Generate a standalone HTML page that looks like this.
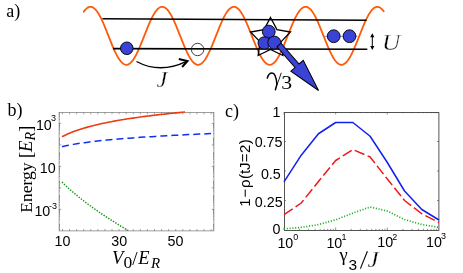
<!DOCTYPE html>
<html><head><meta charset="utf-8"><title>figure</title>
<style>
html,body{margin:0;padding:0;background:#fff;}
body{width:463px;height:273px;overflow:hidden;}
svg{display:block;will-change:transform;}
text{font-family:"Liberation Sans",sans-serif;fill:#000;}
.se{font-family:"Liberation Serif",serif;}
.it{font-style:italic;}
.tk{font-size:14.3px;}
.sp{font-size:9px;}.sc{font-size:9px;}
</style></head><body>
<svg width="463" height="273" viewBox="0 0 463 273">
<rect width="463" height="273" fill="#fff"/>
<!-- panel a -->
<text class="se" x="6.3" y="17.3" font-size="18">a)</text>
<path d="M83.75,11.73 L84.75,10.4 L85.75,9.28 L86.75,8.35 L87.75,7.64 L88.75,7.14 L89.75,6.86 L90.75,6.81 L91.75,6.97 L92.75,7.36 L93.75,7.97 L94.75,8.79 L95.75,9.82 L96.75,11.04 L97.75,12.46 L98.75,14.05 L99.75,15.82 L100.75,17.73 L101.75,19.79 L102.75,21.97 L103.75,24.25 L104.75,26.62 L105.75,29.06 L106.75,31.56 L107.75,34.09 L108.75,36.63 L109.75,39.16 L110.75,41.67 L111.75,44.13 L112.75,46.53 L113.75,48.85 L114.75,51.06 L115.75,53.16 L116.75,55.13 L117.75,56.95 L118.75,58.6 L119.75,60.08 L120.75,61.38 L121.75,62.48 L122.75,63.37 L123.75,64.05 L124.75,64.52 L125.75,64.76 L126.75,64.78 L127.75,64.58 L128.75,64.16 L129.75,63.52 L130.75,62.67 L131.75,61.61 L132.75,60.36 L133.75,58.91 L134.75,57.29 L135.75,55.51 L136.75,53.57 L137.75,51.49 L138.75,49.3 L139.75,47 L140.75,44.62 L141.75,42.16 L142.75,39.66 L143.75,37.13 L144.75,34.59 L145.75,32.06 L146.75,29.56 L147.75,27.1 L148.75,24.72 L149.75,22.41 L150.75,20.21 L151.75,18.13 L152.75,16.19 L153.75,14.39 L154.75,12.76 L155.75,11.31 L156.75,10.04 L157.75,8.98 L158.75,8.12 L159.75,7.47 L160.75,7.03 L161.75,6.82 L162.75,6.83 L163.75,7.07 L164.75,7.52 L165.75,8.19 L166.75,9.07 L167.75,10.16 L168.75,11.45 L169.75,12.92 L170.75,14.57 L171.75,16.38 L172.75,18.34 L173.75,20.43 L174.75,22.64 L175.75,24.95 L176.75,27.35 L177.75,29.81 L178.75,32.31 L179.75,34.85 L180.75,37.39 L181.75,39.92 L182.75,42.41 L183.75,44.86 L184.75,47.23 L185.75,49.52 L186.75,51.71 L187.75,53.77 L188.75,55.69 L189.75,57.46 L190.75,59.07 L191.75,60.49 L192.75,61.73 L193.75,62.77 L194.75,63.6 L195.75,64.21 L196.75,64.61 L197.75,64.79 L198.75,64.75 L199.75,64.48 L200.75,63.99 L201.75,63.29 L202.75,62.37 L203.75,61.26 L204.75,59.94 L205.75,58.44 L206.75,56.77 L207.75,54.94 L208.75,52.96 L209.75,50.85 L210.75,48.62 L211.75,46.29 L212.75,43.89 L213.75,41.42 L214.75,38.91 L215.75,36.37 L216.75,33.83 L217.75,31.31 L218.75,28.82 L219.75,26.38 L220.75,24.02 L221.75,21.74 L222.75,19.58 L223.75,17.53 L224.75,15.63 L225.75,13.89 L226.75,12.31 L227.75,10.91 L228.75,9.7 L229.75,8.7 L230.75,7.9 L231.75,7.31 L232.75,6.95 L233.75,6.8 L234.75,6.88 L235.75,7.18 L236.75,7.7 L237.75,8.43 L238.75,9.38 L239.75,10.53 L240.75,11.87 L241.75,13.4 L242.75,15.09 L243.75,16.95 L244.75,18.95 L245.75,21.08 L246.75,23.32 L247.75,25.66 L248.75,28.08 L249.75,30.56 L250.75,33.07 L251.75,35.61 L252.75,38.15 L253.75,40.67 L254.75,43.15 L255.75,45.58 L256.75,47.93 L257.75,50.19 L258.75,52.34 L259.75,54.36 L260.75,56.24 L261.75,57.96 L262.75,59.51 L263.75,60.88 L264.75,62.06 L265.75,63.04 L266.75,63.8 L267.75,64.36 L268.75,64.69 L269.75,64.8 L270.75,64.69 L271.75,64.36 L272.75,63.8 L273.75,63.04 L274.75,62.06 L275.75,60.88 L276.75,59.51 L277.75,57.96 L278.75,56.24 L279.75,54.36 L280.75,52.34 L281.75,50.19 L282.75,47.93 L283.75,45.58 L284.75,43.15 L285.75,40.67 L286.75,38.15 L287.75,35.61 L288.75,33.07 L289.75,30.56 L290.75,28.08 L291.75,25.66 L292.75,23.32 L293.75,21.08 L294.75,18.95 L295.75,16.95 L296.75,15.09 L297.75,13.4 L298.75,11.87 L299.75,10.53 L300.75,9.38 L301.75,8.43 L302.75,7.7 L303.75,7.18 L304.75,6.88 L305.75,6.8 L306.75,6.95 L307.75,7.31 L308.75,7.9 L309.75,8.7 L310.75,9.7 L311.75,10.91 L312.75,12.31 L313.75,13.89 L314.75,15.63 L315.75,17.53 L316.75,19.58 L317.75,21.74 L318.75,24.02 L319.75,26.38 L320.75,28.82 L321.75,31.31 L322.75,33.83 L323.75,36.37 L324.75,38.91 L325.75,41.42 L326.75,43.89 L327.75,46.29 L328.75,48.62 L329.75,50.85 L330.75,52.96 L331.75,54.94 L332.75,56.77 L333.75,58.44 L334.75,59.94 L335.75,61.26 L336.75,62.37 L337.75,63.29 L338.75,63.99 L339.75,64.48 L340.75,64.75 L341.75,64.79 L342.75,64.61 L343.75,64.21 L344.75,63.6 L345.75,62.77 L346.75,61.73 L347.75,60.49 L348.75,59.07 L349.75,57.46 L350.75,55.69 L351.75,53.77 L352.75,51.71 L353.75,49.52 L354.75,47.23 L355.75,44.86 L356.75,42.41 L357.75,39.92 L358.75,37.39 L359.75,34.85 L360.75,32.31 L361.75,29.81 L362.75,27.35 L363.75,24.95 L364.75,22.64 L365.75,20.43 L366.75,18.34 L367.75,16.38 L368.75,14.57 L369.75,12.92 L370.75,11.45 L371.75,10.16 L372.75,9.07 L373.75,8.19 L374.75,7.52 L375.75,7.07 L376.75,6.83 L377.75,6.82 L378.75,7.03 L379.75,7.47 L380.75,8.12 L381.75,8.98 L382.75,10.04 L383.75,11.31" fill="none" stroke="#ff5a0a" stroke-width="1.8" stroke-linecap="round"/>
<line x1="102.5" y1="18.7" x2="366.6" y2="20.3" stroke="#000" stroke-width="1.6"/>
<line x1="113" y1="48.6" x2="367.3" y2="49.3" stroke="#000" stroke-width="1.6"/>
<circle cx="126.8" cy="48.3" r="6.3" fill="#3a43d6" stroke="#000" stroke-width="0.9"/>
<circle cx="197.6" cy="49.5" r="6.2" fill="none" stroke="#111" stroke-width="0.8"/>
<path d="M136.5,61.5 Q160,74.2 186.5,61.4" fill="none" stroke="#000" stroke-width="1.4"/>
<path d="M178.8,59 L187.5,61 L182.1,67" fill="none" stroke="#000" stroke-width="2" stroke-linejoin="miter"/>
<text class="se it" x="0" y="0" font-size="23" stroke="#fff" stroke-width="0.35" transform="translate(156.6,87.2) scale(1.06,1)">J</text>
<polygon points="270.5,17.5 276.97,29.6 290.47,32.01 280.96,41.9 282.84,55.49 270.5,49.5 258.16,55.49 260.04,41.9 250.53,32.01 264.03,29.6" fill="none" stroke="#000" stroke-width="1.3"/>
<circle cx="268.8" cy="31.6" r="6.4" fill="#3a43d6" stroke="#000" stroke-width="0.9"/>
<circle cx="264.2" cy="43" r="6.2" fill="#3a43d6" stroke="#000" stroke-width="0.9"/>
<circle cx="274.3" cy="42.6" r="6.5" fill="#3a43d6" stroke="#000" stroke-width="0.9"/>
<g transform="translate(279,45) rotate(49)">
<polygon points="0,-2.7 27.5,-2.7 27.5,-8.2 60.3,0 27.5,8.2 27.5,2.7 0,2.7" fill="#3a43d6" stroke="#000" stroke-width="1"/>
</g>
<path d="M267.3,78 C268.3,74.6 270.2,73 272,73 C274.6,73 276.4,77.5 276.9,84.5 L275.4,89.8" fill="none" stroke="#000" stroke-width="1.5" stroke-linecap="round"/>
<path d="M281.2,73.1 C280,77 278.2,81.5 276.9,84.8" fill="none" stroke="#000" stroke-width="0.9" stroke-linecap="round"/>
<text class="se" x="0" y="0" font-size="19.5" transform="translate(281.2,89) scale(1.12,1)">3</text>
<line x1="324.5" y1="36.3" x2="357.5" y2="36.3" stroke="#777" stroke-width="0.8"/>
<circle cx="333.7" cy="36.2" r="6.4" fill="#3a43d6" stroke="#000" stroke-width="0.9"/>
<circle cx="349.5" cy="36.2" r="6.4" fill="#3a43d6" stroke="#000" stroke-width="0.9"/>
<path d="M372.3,36 V47" fill="none" stroke="#000" stroke-width="1"/>
<path d="M372.3,33.2 L370.2,37.2 L374.4,37.2 Z M372.3,49.9 L370.2,45.9 L374.4,45.9 Z" fill="#000"/>
<text class="se it" x="0" y="0" font-size="23" stroke="#fff" stroke-width="0.35" transform="translate(382,49.5) scale(1.1,1)">U</text>

<!-- panel b -->
<text class="se" x="7.5" y="116.3" font-size="18">b)</text>
<rect x="59.1" y="112.4" width="154.8" height="118.5" fill="none" stroke="#777" stroke-width="0.7"/>
<g stroke="#666" stroke-width="0.6"><line x1="62.5" y1="230.9" x2="62.5" y2="229" /><line x1="62.5" y1="112.5" x2="62.5" y2="114.3" /><line x1="69.58" y1="230.9" x2="69.58" y2="229" /><line x1="69.58" y1="112.5" x2="69.58" y2="114.3" /><line x1="76.65" y1="230.9" x2="76.65" y2="229" /><line x1="76.65" y1="112.5" x2="76.65" y2="114.3" /><line x1="83.72" y1="230.9" x2="83.72" y2="229" /><line x1="83.72" y1="112.5" x2="83.72" y2="114.3" /><line x1="90.8" y1="230.9" x2="90.8" y2="229" /><line x1="90.8" y1="112.5" x2="90.8" y2="114.3" /><line x1="97.88" y1="230.9" x2="97.88" y2="229" /><line x1="97.88" y1="112.5" x2="97.88" y2="114.3" /><line x1="104.95" y1="230.9" x2="104.95" y2="229" /><line x1="104.95" y1="112.5" x2="104.95" y2="114.3" /><line x1="112.03" y1="230.9" x2="112.03" y2="229" /><line x1="112.03" y1="112.5" x2="112.03" y2="114.3" /><line x1="119.1" y1="230.9" x2="119.1" y2="229" /><line x1="119.1" y1="112.5" x2="119.1" y2="114.3" /><line x1="126.18" y1="230.9" x2="126.18" y2="229" /><line x1="126.18" y1="112.5" x2="126.18" y2="114.3" /><line x1="133.25" y1="230.9" x2="133.25" y2="229" /><line x1="133.25" y1="112.5" x2="133.25" y2="114.3" /><line x1="140.32" y1="230.9" x2="140.32" y2="229" /><line x1="140.32" y1="112.5" x2="140.32" y2="114.3" /><line x1="147.4" y1="230.9" x2="147.4" y2="229" /><line x1="147.4" y1="112.5" x2="147.4" y2="114.3" /><line x1="154.48" y1="230.9" x2="154.48" y2="229" /><line x1="154.48" y1="112.5" x2="154.48" y2="114.3" /><line x1="161.55" y1="230.9" x2="161.55" y2="229" /><line x1="161.55" y1="112.5" x2="161.55" y2="114.3" /><line x1="168.62" y1="230.9" x2="168.62" y2="229" /><line x1="168.62" y1="112.5" x2="168.62" y2="114.3" /><line x1="175.7" y1="230.9" x2="175.7" y2="229" /><line x1="175.7" y1="112.5" x2="175.7" y2="114.3" /><line x1="182.78" y1="230.9" x2="182.78" y2="229" /><line x1="182.78" y1="112.5" x2="182.78" y2="114.3" /><line x1="189.85" y1="230.9" x2="189.85" y2="229" /><line x1="189.85" y1="112.5" x2="189.85" y2="114.3" /><line x1="196.93" y1="230.9" x2="196.93" y2="229" /><line x1="196.93" y1="112.5" x2="196.93" y2="114.3" /><line x1="204" y1="230.9" x2="204" y2="229" /><line x1="204" y1="112.5" x2="204" y2="114.3" /><line x1="211.08" y1="230.9" x2="211.08" y2="229" /><line x1="211.08" y1="112.5" x2="211.08" y2="114.3" /><line x1="59" y1="123.4" x2="61.2" y2="123.4" /><line x1="214" y1="123.4" x2="211.8" y2="123.4" /><line x1="59" y1="144.9" x2="61.2" y2="144.9" /><line x1="214" y1="144.9" x2="211.8" y2="144.9" /><line x1="59" y1="166.4" x2="61.2" y2="166.4" /><line x1="214" y1="166.4" x2="211.8" y2="166.4" /><line x1="59" y1="187.9" x2="61.2" y2="187.9" /><line x1="214" y1="187.9" x2="211.8" y2="187.9" /><line x1="59" y1="209.4" x2="61.2" y2="209.4" /><line x1="214" y1="209.4" x2="211.8" y2="209.4" /><line x1="59" y1="229.41" x2="60" y2="229.41" /><line x1="214" y1="229.41" x2="213" y2="229.41" /><line x1="59" y1="228.02" x2="60" y2="228.02" /><line x1="214" y1="228.02" x2="213" y2="228.02" /><line x1="59" y1="226.89" x2="60" y2="226.89" /><line x1="214" y1="226.89" x2="213" y2="226.89" /><line x1="59" y1="225.93" x2="60" y2="225.93" /><line x1="214" y1="225.93" x2="213" y2="225.93" /><line x1="59" y1="225.1" x2="60" y2="225.1" /><line x1="214" y1="225.1" x2="213" y2="225.1" /><line x1="59" y1="224.37" x2="60" y2="224.37" /><line x1="214" y1="224.37" x2="213" y2="224.37" /><line x1="59" y1="219.4" x2="60" y2="219.4" /><line x1="214" y1="219.4" x2="213" y2="219.4" /><line x1="59" y1="216.87" x2="60" y2="216.87" /><line x1="214" y1="216.87" x2="213" y2="216.87" /><line x1="59" y1="215.08" x2="60" y2="215.08" /><line x1="214" y1="215.08" x2="213" y2="215.08" /><line x1="59" y1="213.69" x2="60" y2="213.69" /><line x1="214" y1="213.69" x2="213" y2="213.69" /><line x1="59" y1="212.56" x2="60" y2="212.56" /><line x1="214" y1="212.56" x2="213" y2="212.56" /><line x1="59" y1="211.6" x2="60" y2="211.6" /><line x1="214" y1="211.6" x2="213" y2="211.6" /><line x1="59" y1="210.77" x2="60" y2="210.77" /><line x1="214" y1="210.77" x2="213" y2="210.77" /><line x1="59" y1="210.04" x2="60" y2="210.04" /><line x1="214" y1="210.04" x2="213" y2="210.04" /><line x1="59" y1="205.07" x2="60" y2="205.07" /><line x1="214" y1="205.07" x2="213" y2="205.07" /><line x1="59" y1="202.54" x2="60" y2="202.54" /><line x1="214" y1="202.54" x2="213" y2="202.54" /><line x1="59" y1="200.75" x2="60" y2="200.75" /><line x1="214" y1="200.75" x2="213" y2="200.75" /><line x1="59" y1="199.36" x2="60" y2="199.36" /><line x1="214" y1="199.36" x2="213" y2="199.36" /><line x1="59" y1="198.23" x2="60" y2="198.23" /><line x1="214" y1="198.23" x2="213" y2="198.23" /><line x1="59" y1="197.27" x2="60" y2="197.27" /><line x1="214" y1="197.27" x2="213" y2="197.27" /><line x1="59" y1="196.44" x2="60" y2="196.44" /><line x1="214" y1="196.44" x2="213" y2="196.44" /><line x1="59" y1="195.71" x2="60" y2="195.71" /><line x1="214" y1="195.71" x2="213" y2="195.71" /><line x1="59" y1="190.74" x2="60" y2="190.74" /><line x1="214" y1="190.74" x2="213" y2="190.74" /><line x1="59" y1="188.21" x2="60" y2="188.21" /><line x1="214" y1="188.21" x2="213" y2="188.21" /><line x1="59" y1="186.42" x2="60" y2="186.42" /><line x1="214" y1="186.42" x2="213" y2="186.42" /><line x1="59" y1="185.03" x2="60" y2="185.03" /><line x1="214" y1="185.03" x2="213" y2="185.03" /><line x1="59" y1="183.9" x2="60" y2="183.9" /><line x1="214" y1="183.9" x2="213" y2="183.9" /><line x1="59" y1="182.94" x2="60" y2="182.94" /><line x1="214" y1="182.94" x2="213" y2="182.94" /><line x1="59" y1="182.11" x2="60" y2="182.11" /><line x1="214" y1="182.11" x2="213" y2="182.11" /><line x1="59" y1="181.38" x2="60" y2="181.38" /><line x1="214" y1="181.38" x2="213" y2="181.38" /><line x1="59" y1="176.41" x2="60" y2="176.41" /><line x1="214" y1="176.41" x2="213" y2="176.41" /><line x1="59" y1="173.88" x2="60" y2="173.88" /><line x1="214" y1="173.88" x2="213" y2="173.88" /><line x1="59" y1="172.09" x2="60" y2="172.09" /><line x1="214" y1="172.09" x2="213" y2="172.09" /><line x1="59" y1="170.7" x2="60" y2="170.7" /><line x1="214" y1="170.7" x2="213" y2="170.7" /><line x1="59" y1="169.57" x2="60" y2="169.57" /><line x1="214" y1="169.57" x2="213" y2="169.57" /><line x1="59" y1="168.61" x2="60" y2="168.61" /><line x1="214" y1="168.61" x2="213" y2="168.61" /><line x1="59" y1="167.78" x2="60" y2="167.78" /><line x1="214" y1="167.78" x2="213" y2="167.78" /><line x1="59" y1="167.05" x2="60" y2="167.05" /><line x1="214" y1="167.05" x2="213" y2="167.05" /><line x1="59" y1="162.08" x2="60" y2="162.08" /><line x1="214" y1="162.08" x2="213" y2="162.08" /><line x1="59" y1="159.55" x2="60" y2="159.55" /><line x1="214" y1="159.55" x2="213" y2="159.55" /><line x1="59" y1="157.76" x2="60" y2="157.76" /><line x1="214" y1="157.76" x2="213" y2="157.76" /><line x1="59" y1="156.37" x2="60" y2="156.37" /><line x1="214" y1="156.37" x2="213" y2="156.37" /><line x1="59" y1="155.24" x2="60" y2="155.24" /><line x1="214" y1="155.24" x2="213" y2="155.24" /><line x1="59" y1="154.28" x2="60" y2="154.28" /><line x1="214" y1="154.28" x2="213" y2="154.28" /><line x1="59" y1="153.45" x2="60" y2="153.45" /><line x1="214" y1="153.45" x2="213" y2="153.45" /><line x1="59" y1="152.72" x2="60" y2="152.72" /><line x1="214" y1="152.72" x2="213" y2="152.72" /><line x1="59" y1="147.75" x2="60" y2="147.75" /><line x1="214" y1="147.75" x2="213" y2="147.75" /><line x1="59" y1="145.22" x2="60" y2="145.22" /><line x1="214" y1="145.22" x2="213" y2="145.22" /><line x1="59" y1="143.43" x2="60" y2="143.43" /><line x1="214" y1="143.43" x2="213" y2="143.43" /><line x1="59" y1="142.04" x2="60" y2="142.04" /><line x1="214" y1="142.04" x2="213" y2="142.04" /><line x1="59" y1="140.91" x2="60" y2="140.91" /><line x1="214" y1="140.91" x2="213" y2="140.91" /><line x1="59" y1="139.95" x2="60" y2="139.95" /><line x1="214" y1="139.95" x2="213" y2="139.95" /><line x1="59" y1="139.12" x2="60" y2="139.12" /><line x1="214" y1="139.12" x2="213" y2="139.12" /><line x1="59" y1="138.39" x2="60" y2="138.39" /><line x1="214" y1="138.39" x2="213" y2="138.39" /><line x1="59" y1="133.42" x2="60" y2="133.42" /><line x1="214" y1="133.42" x2="213" y2="133.42" /><line x1="59" y1="130.89" x2="60" y2="130.89" /><line x1="214" y1="130.89" x2="213" y2="130.89" /><line x1="59" y1="129.1" x2="60" y2="129.1" /><line x1="214" y1="129.1" x2="213" y2="129.1" /><line x1="59" y1="127.71" x2="60" y2="127.71" /><line x1="214" y1="127.71" x2="213" y2="127.71" /><line x1="59" y1="126.58" x2="60" y2="126.58" /><line x1="214" y1="126.58" x2="213" y2="126.58" /><line x1="59" y1="125.62" x2="60" y2="125.62" /><line x1="214" y1="125.62" x2="213" y2="125.62" /><line x1="59" y1="124.79" x2="60" y2="124.79" /><line x1="214" y1="124.79" x2="213" y2="124.79" /><line x1="59" y1="124.06" x2="60" y2="124.06" /><line x1="214" y1="124.06" x2="213" y2="124.06" /><line x1="59" y1="119.09" x2="60" y2="119.09" /><line x1="214" y1="119.09" x2="213" y2="119.09" /><line x1="59" y1="116.56" x2="60" y2="116.56" /><line x1="214" y1="116.56" x2="213" y2="116.56" /><line x1="59" y1="114.77" x2="60" y2="114.77" /><line x1="214" y1="114.77" x2="213" y2="114.77" /><line x1="59" y1="113.38" x2="60" y2="113.38" /><line x1="214" y1="113.38" x2="213" y2="113.38" /></g>
<polyline points="62,136.75 65.08,135.19 68.15,133.78 71.22,132.49 74.3,131.31 77.38,130.22 80.45,129.2 83.53,128.25 86.6,127.36 89.68,126.52 92.75,125.72 95.83,124.97 98.9,124.25 101.98,123.57 105.05,122.92 108.12,122.3 111.2,121.7 114.28,121.13 117.35,120.58 120.43,120.05 123.5,119.54 126.58,119.05 129.65,118.57 132.73,118.11 135.8,117.67 138.88,117.24 141.95,116.82 145.03,116.41 148.1,116.02 151.18,115.63 154.25,115.26 157.32,114.9 160.4,114.54 163.48,114.2 166.55,113.86 169.62,113.53 172.7,113.21 175.78,112.9 178.85,112.59 181.93,112.29 185,112" fill="none" stroke="#f03a14" stroke-width="1.6"/>
<polyline points="62,146.7 65.73,145.84 69.45,145.07 73.17,144.38 76.9,143.75 80.62,143.18 84.35,142.64 88.08,142.14 91.8,141.68 95.53,141.24 99.25,140.83 102.97,140.44 106.7,140.07 110.43,139.71 114.15,139.37 117.88,139.05 121.6,138.74 125.32,138.45 129.05,138.16 132.77,137.88 136.5,137.62 140.22,137.36 143.95,137.11 147.68,136.87 151.4,136.64 155.12,136.41 158.85,136.19 162.57,135.97 166.3,135.76 170.02,135.56 173.75,135.36 177.48,135.17 181.2,134.98 184.93,134.79 188.65,134.61 192.38,134.43 196.1,134.26 199.82,134.09 203.55,133.92 207.28,133.76 211,133.6" fill="none" stroke="#1030f0" stroke-width="1.5" stroke-dasharray="7,4"/>
<polyline points="62,182 63.66,183.64 65.31,185.24 66.97,186.8 68.62,188.32 70.28,189.81 71.94,191.27 73.59,192.7 75.25,194.11 76.91,195.49 78.56,196.84 80.22,198.18 81.88,199.49 83.53,200.78 85.19,202.06 86.84,203.31 88.5,204.55 90.16,205.77 91.81,206.98 93.47,208.17 95.12,209.34 96.78,210.5 98.44,211.65 100.09,212.79 101.75,213.91 103.41,215.02 105.06,216.12 106.72,217.21 108.38,218.29 110.03,219.36 111.69,220.41 113.34,221.46 115,222.5 116.66,223.53 118.31,224.55 119.97,225.56 121.62,226.56 123.28,227.56 124.94,228.55 126.59,229.53 128.25,230.5" fill="none" stroke="#109010" stroke-width="1.4" stroke-dasharray="1.4,1.4"/>
<text class="tk" x="35.9" y="130">10</text><text class="sp" x="50.9" y="121.1">3</text>
<text class="tk" x="39.8" y="172.6">10</text>
<text class="tk" x="34.4" y="216">10</text><text class="sp" x="48.9" y="208.6">-3</text>
<text class="tk" x="54.6" y="246.4">10</text>
<text class="tk" x="111.3" y="246.4">30</text>
<text class="tk" x="167.6" y="246.4">50</text>
<text class="se it" x="112" y="264" font-size="18.5">V</text>
<text class="se" x="123.6" y="268.2" font-size="17.5">0</text>
<text class="se" x="132.3" y="265" font-size="19">/</text>
<text class="se it" x="138.3" y="264" font-size="18.5">E</text>
<text class="se it" x="151" y="268.2" font-size="15">R</text>
<g transform="translate(32.3,212.8) rotate(-90)">
<text class="se" x="0" y="0" font-size="17.5">Energy <tspan font-size="19">[</tspan><tspan class="it" font-size="18.5">E</tspan><tspan class="it" font-size="14" dy="3">R</tspan><tspan dy="-3" font-size="19">]</tspan></text>
</g>

<!-- panel c -->
<text class="se" x="225" y="117.3" font-size="18">c)</text>
<rect x="284.4" y="112.6" width="154.5" height="117.9" fill="none" stroke="#2a2a2a" stroke-width="0.8"/>
<g stroke="#444" stroke-width="0.6"><line x1="284" y1="230" x2="284" y2="227.5" /><line x1="284" y1="112" x2="284" y2="114.5" /><line x1="299.55" y1="230" x2="299.55" y2="228.8" /><line x1="299.55" y1="112" x2="299.55" y2="113.2" /><line x1="308.65" y1="230" x2="308.65" y2="228.8" /><line x1="308.65" y1="112" x2="308.65" y2="113.2" /><line x1="315.11" y1="230" x2="315.11" y2="228.8" /><line x1="315.11" y1="112" x2="315.11" y2="113.2" /><line x1="320.11" y1="230" x2="320.11" y2="228.8" /><line x1="320.11" y1="112" x2="320.11" y2="113.2" /><line x1="324.2" y1="230" x2="324.2" y2="228.8" /><line x1="324.2" y1="112" x2="324.2" y2="113.2" /><line x1="327.66" y1="230" x2="327.66" y2="228.8" /><line x1="327.66" y1="112" x2="327.66" y2="113.2" /><line x1="330.66" y1="230" x2="330.66" y2="228.8" /><line x1="330.66" y1="112" x2="330.66" y2="113.2" /><line x1="333.3" y1="230" x2="333.3" y2="228.8" /><line x1="333.3" y1="112" x2="333.3" y2="113.2" /><line x1="335.67" y1="230" x2="335.67" y2="227.5" /><line x1="335.67" y1="112" x2="335.67" y2="114.5" /><line x1="351.22" y1="230" x2="351.22" y2="228.8" /><line x1="351.22" y1="112" x2="351.22" y2="113.2" /><line x1="360.32" y1="230" x2="360.32" y2="228.8" /><line x1="360.32" y1="112" x2="360.32" y2="113.2" /><line x1="366.77" y1="230" x2="366.77" y2="228.8" /><line x1="366.77" y1="112" x2="366.77" y2="113.2" /><line x1="371.78" y1="230" x2="371.78" y2="228.8" /><line x1="371.78" y1="112" x2="371.78" y2="113.2" /><line x1="375.87" y1="230" x2="375.87" y2="228.8" /><line x1="375.87" y1="112" x2="375.87" y2="113.2" /><line x1="379.33" y1="230" x2="379.33" y2="228.8" /><line x1="379.33" y1="112" x2="379.33" y2="113.2" /><line x1="382.33" y1="230" x2="382.33" y2="228.8" /><line x1="382.33" y1="112" x2="382.33" y2="113.2" /><line x1="384.97" y1="230" x2="384.97" y2="228.8" /><line x1="384.97" y1="112" x2="384.97" y2="113.2" /><line x1="387.33" y1="230" x2="387.33" y2="227.5" /><line x1="387.33" y1="112" x2="387.33" y2="114.5" /><line x1="402.89" y1="230" x2="402.89" y2="228.8" /><line x1="402.89" y1="112" x2="402.89" y2="113.2" /><line x1="411.99" y1="230" x2="411.99" y2="228.8" /><line x1="411.99" y1="112" x2="411.99" y2="113.2" /><line x1="418.44" y1="230" x2="418.44" y2="228.8" /><line x1="418.44" y1="112" x2="418.44" y2="113.2" /><line x1="423.45" y1="230" x2="423.45" y2="228.8" /><line x1="423.45" y1="112" x2="423.45" y2="113.2" /><line x1="427.54" y1="230" x2="427.54" y2="228.8" /><line x1="427.54" y1="112" x2="427.54" y2="113.2" /><line x1="431" y1="230" x2="431" y2="228.8" /><line x1="431" y1="112" x2="431" y2="113.2" /><line x1="433.99" y1="230" x2="433.99" y2="228.8" /><line x1="433.99" y1="112" x2="433.99" y2="113.2" /><line x1="436.64" y1="230" x2="436.64" y2="228.8" /><line x1="436.64" y1="112" x2="436.64" y2="113.2" /><line x1="284" y1="200.5" x2="286" y2="200.5" /><line x1="439" y1="200.5" x2="437" y2="200.5" /><line x1="284" y1="171" x2="286" y2="171" /><line x1="439" y1="171" x2="437" y2="171" /><line x1="284" y1="141.5" x2="286" y2="141.5" /><line x1="439" y1="141.5" x2="437" y2="141.5" /></g>
<polyline points="284,181.8 301.22,155.2 318.44,133.75 335.67,122.5 352.89,122.5 370.11,136.25 387.33,162.5 404.56,191 421.78,209.5 439,220" fill="none" stroke="#1020f0" stroke-width="1.5" stroke-linejoin="round"/>
<polyline points="284,214.7 301.22,203 318.44,181.5 335.67,160.5 352.89,149.5 370.11,157 387.33,179 404.56,200.5 421.78,213.75 439,222.5" fill="none" stroke="#f01818" stroke-width="1.5" stroke-dasharray="10.5,3.5" stroke-linejoin="round"/>
<polyline points="284,228.8 301.22,227.4 318.44,224.6 335.67,219.8 352.89,213.1 370.11,207 387.33,211 404.56,219.5 421.78,224.5 439,227.5" fill="none" stroke="#20b020" stroke-width="1.7" stroke-dasharray="1.1,1.7"/>
<text class="tk" x="280.5" y="116.6" text-anchor="end">1</text>
<text class="tk" x="282.5" y="147.3" text-anchor="end">0.75</text>
<text class="tk" x="280.8" y="179" text-anchor="end">0.5</text>
<text class="tk" x="282.6" y="207.3" text-anchor="end">0.25</text>
<text class="tk" x="280.5" y="233.8" text-anchor="end">0</text>
<text class="tk" x="277.4" y="247.7">10</text><text class="sc" x="293.2" y="240">0</text>
<text class="tk" x="326.4" y="247.5">10</text><text class="sc" x="341.6" y="240.3">1</text>
<text class="tk" x="377.2" y="247.3">10</text><text class="sc" x="392.3" y="239.6">2</text>
<text class="tk" x="426.1" y="247">10</text><text class="sc" x="441" y="239.3">3</text>
<text class="se" x="339.5" y="260.7" font-size="18.5">γ</text>
<text x="348.6" y="270.2" font-size="15.5">3</text>
<line x1="360.4" y1="268.6" x2="367.4" y2="251.2" stroke="#000" stroke-width="1.1"/>
<text class="se it" x="0" y="0" font-size="22.5" stroke="#fff" stroke-width="0.3" transform="translate(367.6,267.3) scale(1.12,1)">J</text>
<g transform="translate(249.6,206.8) rotate(-90)">
<text x="0 9.3 18.9 27.8 32.9 36.9 44.5 53.7 62.5" y="0" font-size="15">1−ρ(tJ=2)</text>
</g>
</svg>
</body></html>
